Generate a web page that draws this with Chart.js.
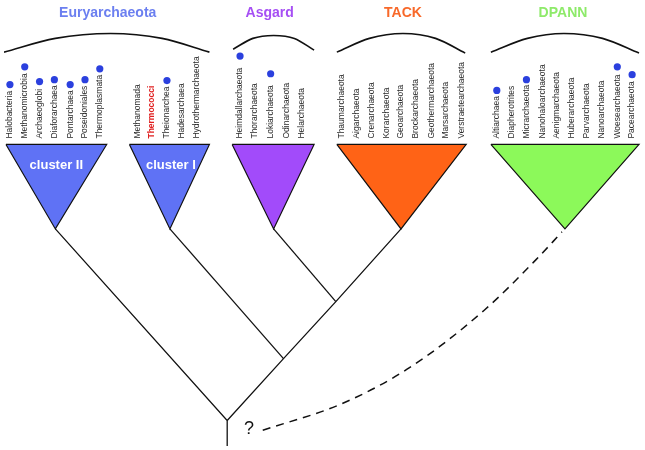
<!DOCTYPE html>
<html>
<head>
<meta charset="utf-8">
<script src="https://cdn.jsdelivr.net/npm/chart.js@4/dist/chart.umd.min.js"></script>
<style>
  html, body { margin: 0; padding: 0; background: #fff; }
  #wrap { width: 645px; height: 450px; }
</style>
</head>
<body>
<div id="wrap"><canvas id="tree" width="645" height="450"></canvas></div>
<script>
// Archaea tree - drawn on a 645 x 450 coordinate plane (y grows downwards)

// Leaf taxa printed above the collapsed clades
const taxaNames = [
    "Halobacteria", "Methanomicrobia", "Archaeoglobi", "Diaforarchaea", "Pontarchaea", "Poseidoniales", "Thermoplasmata",
    "Methanomada", "Thermococci", "Theionarchea", "Hadesarchaea", "Hydrothermarchaeota",
    "Heimdallarchaeota", "Thorarchaeota", "Lokiarchaeota", "Odinarchaeota", "Helarchaeota",
    "Thaumarchaeota", "Aigarchaeota", "Crenarchaeota", "Korarchaeota", "Geoarchaeota", "Brockarchaeota",
    "Geothermarchaeota", "Marsarchaeota", "Verstraetearchaeota",
    "Altiarchaea", "Diapherotrites", "Micrarchaeota", "Nanohaloarchaeota", "Aenigmarchaeota", "Huberarchaeota",
    "Parvarchaeota", "Nanoarchaeota", "Woesearchaeota", "Pacearchaeota",
];
const taxaX = [
    6, 21, 36, 51, 67, 82, 97,
    135, 150, 165, 180, 195,
    239, 254, 270, 286, 301,
    342, 357, 372, 387, 402, 417, 433, 447, 463,
    499, 514, 529, 545, 560, 575, 590, 605, 621, 636,
];
const highlightTaxon = "Thermococci";

// Blue markers above some taxa
const markerX = [6, 21, 36, 51, 67, 82, 97, 165, 239, 270, 499, 529, 621, 636];
const markerY = [82, 64, 79, 77, 82, 77, 66, 78, 53, 71, 88, 77, 64, 72];

// Collapsed clades (triangles): top-left, top-right, apex
const cladeNames = ["cluster II", "cluster I", "Asgard", "TACK", "DPANN"];
const cladeLeft = [2, 127, 231, 337, 493];
const cladeRight = [104, 208, 314, 468, 643];
const cladeApex = [52, 168, 273, 402, 568];
const cladeTop = 143;
const cladeBottom = 229;

// Inner nodes of the tree
const rootNode = { x: 226, y: 424 };
const asgardTackNode = { x: 336, y: 303 };
const clusterINode = { x: 283, y: 361 };
const treeBase = 450;

// Dashed DPANN connection
const dpannLinkX = [262, 342, 411, 486, 539, 565];
const dpannLinkY = [434, 407, 370, 312, 260, 232];

// Group titles and their brackets
const groupNames = ["Euryarchaeota", "Asgard", "TACK", "DPANN"];
const groupTitleX = [105, 269, 404, 566];
const bracketX = [
    [0, 52, 108, 160, 208],
    [232, 252, 273, 294, 314],
    [337, 370, 404, 437, 467],
    [493, 530, 567, 606, 643],
];
const bracketY = [
    [49, 35, 30, 35, 49],
    [46, 35, 32, 35, 47],
    [49, 35, 30, 35, 50],
    [49, 35, 30, 35, 50],
];

const groupColors = ["#6b7ff0", "#a64ff4", "#f8692a", "#8eea6a"];
const cladeColors = ["#5f72f5", "#5f72f5", "#a24bfa", "#ff6316", "#8cf95a"];

function pts(xs, ys) {
    return xs.map((x, i) => ({ x, y: ys[i] }));
}

const datasets = [];

// Triangles
cladeNames.forEach((name, i) => {
    datasets.push({
        label: name,
        data: [
            { x: cladeLeft[i], y: cladeTop },
            { x: cladeRight[i], y: cladeTop },
            { x: cladeApex[i], y: cladeBottom },
            { x: cladeLeft[i], y: cladeTop },
        ],
        borderColor: "#111",
        borderWidth: 1.2,
        backgroundColor: cladeColors[i],
        fill: "shape",
        tension: 0,
        pointRadius: 0,
    });
});

// Branches
const branchStyle = { borderColor: "#111", borderWidth: 1.3, tension: 0, pointRadius: 0, fill: false };
datasets.push({ ...branchStyle, data: [
    { x: cladeApex[0], y: cladeBottom }, rootNode, { x: rootNode.x, y: treeBase },
] });
datasets.push({ ...branchStyle, data: [{ x: cladeApex[3], y: cladeBottom }, asgardTackNode, clusterINode, rootNode] });
datasets.push({ ...branchStyle, data: [{ x: cladeApex[1], y: cladeBottom }, clusterINode] });
datasets.push({ ...branchStyle, data: [{ x: cladeApex[2], y: cladeBottom }, asgardTackNode] });

// Dashed link to DPANN
datasets.push({
    data: pts(dpannLinkX, dpannLinkY),
    borderColor: "#111",
    borderWidth: 1.5,
    borderDash: [8, 6],
    cubicInterpolationMode: "monotone",
    pointRadius: 0,
    fill: false,
});

// Brackets above the groups
bracketX.forEach((xs, i) => {
    datasets.push({
        data: pts(xs, bracketY[i]),
        borderColor: "#111",
        borderWidth: 1.6,
        cubicInterpolationMode: "monotone",
        pointRadius: 0,
        fill: false,
    });
});

// Markers
datasets.push({
    data: pts(markerX, markerY),
    showLine: false,
    pointRadius: 3.6,
    pointBackgroundColor: "#2b40de",
    pointBorderWidth: 0,
});

// Text layer: taxa, titles, cluster names and the question mark
const textPlugin = {
    id: "treeText",
    afterDatasetsDraw(chart) {
        const { ctx, scales: { x, y } } = chart;
        ctx.save();

        // taxa, rotated
        taxaNames.forEach((name, i) => {
            const special = name === highlightTaxon;
            ctx.save();
            ctx.translate(x.getPixelForValue(taxaX[i]), y.getPixelForValue(137));
            ctx.rotate(-Math.PI / 2);
            ctx.font = (special ? "bold " : "") + "8.5px 'Liberation Sans', Arial, sans-serif";
            ctx.fillStyle = special ? "#e02020" : "#2a2a2a";
            ctx.textAlign = "left";
            ctx.textBaseline = "middle";
            ctx.fillText(name, 0, 0);
            ctx.restore();
        });

        // group titles
        ctx.font = "bold 14px 'Liberation Sans', Arial, sans-serif";
        ctx.textAlign = "center";
        ctx.textBaseline = "alphabetic";
        groupNames.forEach((name, i) => {
            ctx.fillStyle = groupColors[i];
            ctx.fillText(name, x.getPixelForValue(groupTitleX[i]), y.getPixelForValue(13));
        });

        // cluster names inside the Euryarchaeota triangles
        ctx.font = "bold 13px 'Liberation Sans', Arial, sans-serif";
        ctx.fillStyle = "#fff";
        [0, 1].forEach((i) => {
            ctx.fillText(cladeNames[i], x.getPixelForValue(cladeApex[i] + 1), y.getPixelForValue(168));
        });

        // question mark at the root
        ctx.font = "18px 'Liberation Sans', Arial, sans-serif";
        ctx.fillStyle = "#111";
        ctx.fillText("?", x.getPixelForValue(248), y.getPixelForValue(438));

        ctx.restore();
    },
};

new Chart(document.getElementById("tree"), {
    type: "line",
    data: { datasets },
    options: {
        responsive: false,
        animation: false,
        layout: { padding: 0 },
        plugins: { legend: { display: false }, tooltip: { enabled: false } },
        scales: {
            x: { type: "linear", min: 0, max: 645, display: false },
            y: { type: "linear", min: 0, max: 450, reverse: true, display: false },
        },
    },
    plugins: [textPlugin],
});
</script>
</body>
</html>
